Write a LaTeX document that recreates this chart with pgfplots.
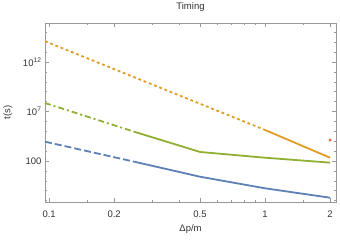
\documentclass[border=0pt]{standalone}
\usepackage{fontspec}
\setmainfont{Liberation Sans}
\usepackage{pgfplots}
\pgfplotsset{compat=1.18}
\definecolor{mblue}{rgb}{0.368417,0.506779,0.709798}
\definecolor{morange}{rgb}{0.880722,0.611041,0.142051}
\definecolor{mgreen}{rgb}{0.560181,0.691569,0.194885}
\definecolor{mred}{rgb}{0.922526,0.385626,0.209179}
\begin{document}
\begin{tikzpicture}
\begin{axis}[
  scale only axis, width=291pt, height=179pt,
  xmode=log, ymode=log,
  xmin=0.0957, xmax=2.13, ymin=0.0072, ymax=8.7e15,
  axis line style={black!40},
  every tick/.style={black!40},
  tick align=inside,
  major tick length=4pt, minor tick length=2.2pt,
  xtick={0.1,0.2,0.5,1,2}, xticklabels={0.1,0.2,0.5,1,2},
  minor xtick={0.15,0.3,0.4,0.6,0.7,0.8,0.9,1.5},
  ytick={1e2,1e7,1e12}, yticklabels={100,10\textsuperscript{7},10\textsuperscript{12}},
  minor ytick={1e-2,1e-1,1,1e1,1e3,1e4,1e5,1e6,1e8,1e9,1e10,1e11,1e13,1e14,1e15},
  tick label style={font=\fontsize{9.5}{11}\selectfont, text=black!80},
  xticklabel style={anchor=center, yshift=-12pt},
  label style={font=\fontsize{9.5}{11}\selectfont, text=black!80},
  every axis title shift=0pt,
  title style={font=\fontsize{9.5}{11}\selectfont, text=black!80, at={(axis description cs:0.5,1.087)}, anchor=center},
  xlabel style={at={(axis description cs:0.5,-0.151)}, anchor=center},
  ylabel style={at={(axis description cs:-0.127,0.5)}, anchor=center},
  title={Timing}, xlabel={Δp/m}, ylabel={t(s)},
  clip=true,
]
\addplot[morange, line width=1.8pt, dash pattern=on 2.8pt off 2.8pt] coordinates {(0.0957,1.26e14) (1,1.35e5)};
\addplot[morange, line width=1.8pt] coordinates {(1,1.35e5) (2,214)};
\addplot[mgreen, line width=1.8pt, dash pattern=on 6pt off 3pt on 2pt off 3pt] coordinates {(0.0957,7.2e7) (0.25,8.5e4)};
\addplot[mgreen, line width=1.8pt] coordinates {(0.25,8.5e4) (0.5,813) (1,214) (2,68)};
\addplot[mblue, line width=1.8pt, dash pattern=on 7pt off 3pt] coordinates {(0.0957,8900) (0.25,81)};
\addplot[mblue, line width=1.8pt] coordinates {(0.25,81) (0.5,2.57) (1,0.174) (2,0.0195)};
\addplot[only marks, mark=*, mark size=1.3pt, color=mred] coordinates {(2,1.3e4)};
\coordinate (SW) at (rel axis cs:0,0);
\coordinate (NE) at (rel axis cs:1,1);
\end{axis}
\pgfresetboundingbox
\path ([shift={(-45pt,-38pt)}]SW) rectangle ([shift={(4pt,23pt)}]NE);
\end{tikzpicture}
\end{document}
